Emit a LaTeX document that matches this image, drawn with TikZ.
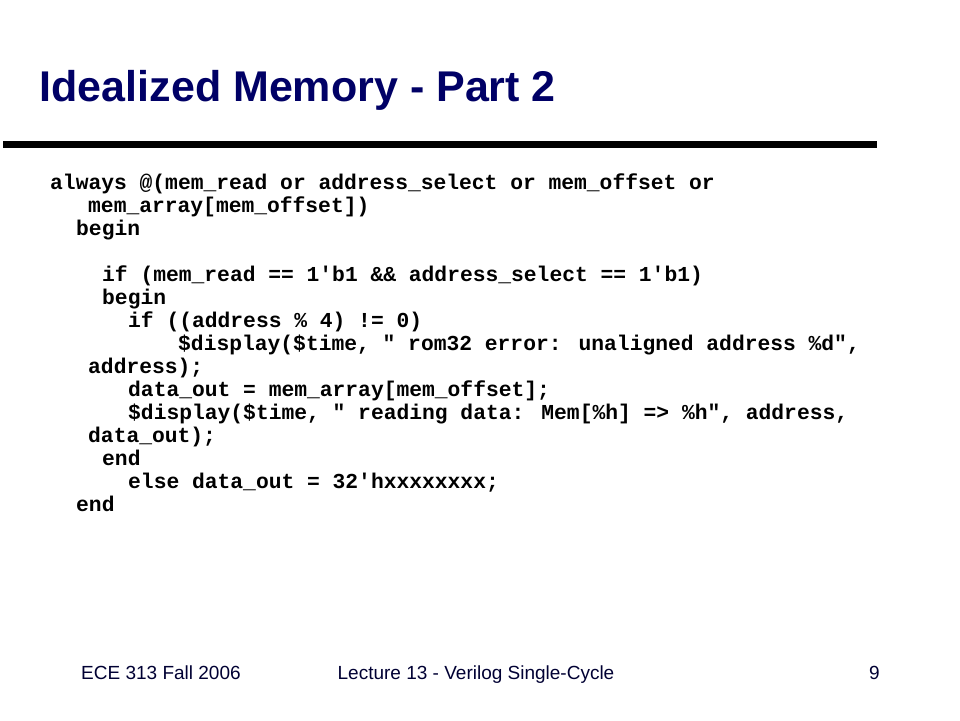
\documentclass[tikz,border=0pt]{standalone}
\usepackage{fontspec}
\setmainfont{Liberation Sans}
\newfontfamily\codefont{Liberation Mono}
\definecolor{titleblue}{RGB}{0,0,102}
\definecolor{footblue}{RGB}{0,0,51}
\begin{document}
\begin{tikzpicture}[x=1pt,y=-1pt,
  codeline/.style={anchor=base west,inner sep=0pt,font=\codefont\bfseries\fontsize{21.3}{23}\selectfont,text=black},
  titletext/.style={anchor=base west,inner sep=0pt,font=\bfseries\fontsize{43}{48}\selectfont,text=titleblue},
  foottext/.style={anchor=base,inner sep=0pt,font=\fontsize{19}{22}\selectfont,text=footblue}]
\useasboundingbox[fill=white] (0,0) rectangle (960,720);
\node[titletext] (title) at (39.5,101) {Idealized Memory - Part 2};
\fill[black] (3,140.5) rectangle (877,148);
\node[codeline] (l1) at (50,189) {always @(mem\_read or address\_select or mem\_offset or};
\node[codeline] (l2) at (88,212) {mem\_array[mem\_offset])};
\node[codeline] (l3) at (76,235) {begin};
\node[codeline] (l4) at (102,281) {if (mem\_read == 1'b1 \&\& address\_select == 1'b1)};
\node[codeline] (l5) at (102,304) {begin};
\node[codeline] (l6) at (128,327) {if ((address \% 4) != 0)};
\node[codeline] (l7) at (178,350) {\$display(\$time, " rom32 error: unaligned address \%d",};
\node[codeline] (l8) at (88,373) {address);};
\node[codeline] (l9) at (128,396) {data\_out = mem\_array[mem\_offset];};
\node[codeline] (l10) at (128,419) {\$display(\$time, " reading data: Mem[\%h] => \%h", address,};
\node[codeline] (l11) at (88,442) {data\_out);};
\node[codeline] (l12) at (102,465) {end};
\node[codeline] (l13) at (128,488) {else data\_out = 32'hxxxxxxxx;};
\node[codeline] (l14) at (76,511) {end};
\node[foottext,anchor=base west] (f1) at (81,679) {ECE 313 Fall 2006};
\node[foottext] (f2) at (476,679) {Lecture 13 - Verilog Single-Cycle};
\node[foottext,anchor=base east] (f3) at (880,679) {9};
\end{tikzpicture}
\end{document}
